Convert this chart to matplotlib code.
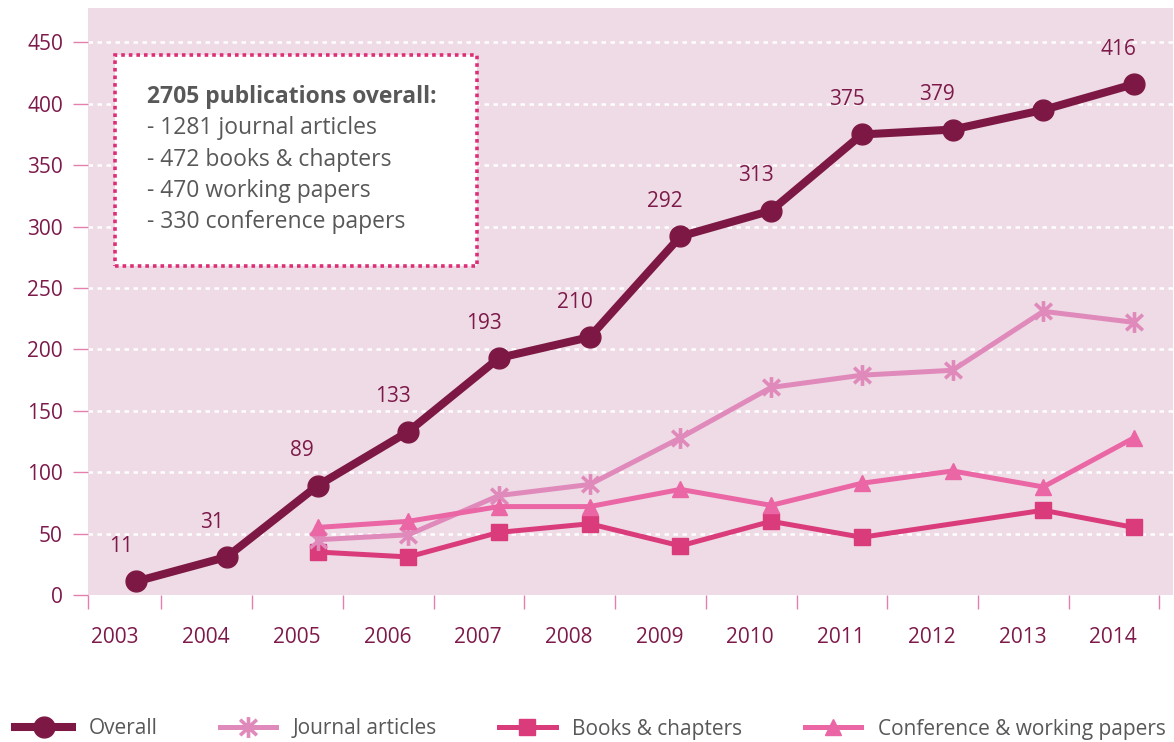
import numpy as np
import matplotlib.pyplot as plt
from matplotlib.patches import Rectangle
from matplotlib.path import Path

############################################################
# Data

years = ['2003', '2004', '2005', '2006', '2007', '2008',
         '2009', '2010', '2011', '2012', '2013', '2014']
overall = [11, 31, 89, 133, 193, 210, 292, 313, 375, 379, 395, 416]
overall_labels = ['11', '31', '89', '133', '193', '210', '292', '313', '375', '379', '', '416']
journal = [None, None, 45, 49, 81, 90, 128, 169, 179, 183, 231, 222]
books = [None, None, 35, 31, 51, 58, 40, 60, 47, None, 69, 55]
conference = [None, None, 55, 60, 72, 72, 86, 73, 91, 101, 88, 128]

summary_title = '2705 publications overall:'
summary_lines = ['- 1281 journal articles', '- 472 books & chapters',
                 '- 470 working papers', '- 330 conference papers']

############################################################
# Styling

plt.rcParams['font.family'] = ['Open Sans', 'DejaVu Sans']
bg = '#eedbe5'
c_overall = '#7d1845'
c_journal = '#e08abb'
c_books = '#da3b7b'
c_conf = '#ea66a5'
c_tick = '#e47fae'
c_label = '#7d1a4a'
c_text = '#58585a'

# asterisk: one vertical stroke and two diagonals
M, L = Path.MOVETO, Path.LINETO
star = Path([(0, -1), (0, 1), (-0.8, -0.75), (0.8, 0.75), (-0.8, 0.75), (0.8, -0.75)],
            [M, L, M, L, M, L])

def pts(vals):
    xs = [i for i, v in enumerate(vals) if v is not None]
    ys = [v for v in vals if v is not None]
    return xs, ys

fig = plt.figure(figsize=(11.74, 7.42), dpi=100)
ax = fig.add_axes([88 / 1174, 1 - 595 / 742, (1173 - 88) / 1174, (595 - 8) / 742])
ax.set_facecolor(bg)
for s in ax.spines.values():
    s.set_visible(False)

ax.set_xlim(-0.53, 11.43)
ax.set_ylim(0, 478)

# y axis: pink ticks outside, white dotted grid inside
yt = np.arange(0, 451, 50)
ax.set_yticks(yt)
ax.set_yticklabels([str(v) for v in yt])
ax.tick_params(axis='y', length=11, width=1, color=c_tick, pad=7,
               labelsize=15, labelcolor=c_label)
for v in yt[1:]:
    ax.axhline(v, color='white', lw=1.8, ls=(0, (1.8, 1.8)), zorder=1)

# x axis: separator ticks, year labels between them
idx = np.arange(len(years))
ax.set_xticks(np.concatenate([[-0.53], idx + 0.28]))
ax.set_xticklabels([])
ax.tick_params(axis='x', which='major', length=10, width=1, color=c_tick)
ax.set_xticks(idx - 0.23, minor=True)
ax.set_xticklabels(years, minor=True)
ax.tick_params(axis='x', which='minor', length=0, pad=23,
               labelsize=15, labelcolor=c_label)

# series
x, y = pts(books)
ax.plot(x, y, color=c_books, lw=3.6, marker='s', ms=11, zorder=3,
        label='Books & chapters')
x, y = pts(journal)
ax.plot(x, y, color=c_journal, lw=3.6, marker=star, ms=15, mew=2.6,
        zorder=3, label='Journal articles')
x, y = pts(conference)
ax.plot(x, y, color=c_conf, lw=3.6, marker='^', ms=12, zorder=3,
        label='Conference & working papers')
ax.plot(idx, overall, color=c_overall, lw=5.8, marker='o', ms=15,
        zorder=4, label='Overall')

for i, (v, lab) in enumerate(zip(overall, overall_labels)):
    if lab:
        ax.annotate(lab, (i, v), xytext=(-11, 25), textcoords='offset points',
                    ha='center', va='center', fontsize=15, color=c_label)

# summary box
box = Rectangle((115 / 1174, 1 - 266 / 742), (477 - 115) / 1174, (266 - 55) / 742,
                transform=fig.transFigure, facecolor='white', edgecolor='#dc2f77',
                lw=2.6, ls=(0, (1, 1.1)), zorder=5)
fig.add_artist(box)
fig.text(147 / 1174, 1 - 97 / 742, summary_title, fontsize=16.5, fontweight='bold',
         color=c_text, va='center', ha='left', zorder=6)
for k, line in enumerate(summary_lines):
    fig.text(147 / 1174, 1 - (128 + 31.5 * k) / 742, line, fontsize=16.5,
             color=c_text, va='center', ha='left', zorder=6)

# legend along the bottom
handles, labels = ax.get_legend_handles_labels()
order = [3, 1, 0, 2]
leg = fig.legend([handles[k] for k in order], [labels[k] for k in order],
                 loc='center left', bbox_to_anchor=(0.006, 1 - 729 / 742), ncol=4,
                 frameon=False, fontsize=15, handlelength=2.7,
                 handletextpad=0.8, columnspacing=3.0, borderaxespad=0)
for t in leg.get_texts():
    t.set_color(c_text)

plt.savefig('out.png', dpi=100)
